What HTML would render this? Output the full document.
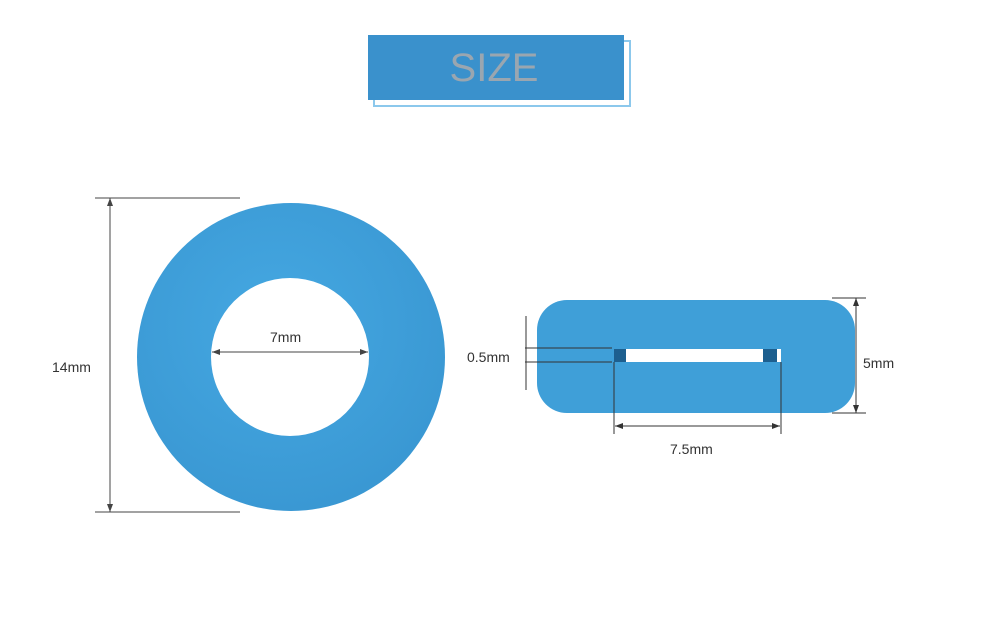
<!DOCTYPE html>
<html><head><style>
body{margin:0;background:#fff;width:1000px;height:638px;overflow:hidden}
</style></head><body>
<svg width="1000" height="638" viewBox="0 0 1000 638" xmlns="http://www.w3.org/2000/svg">
<defs>
<radialGradient id="g" cx="0.45" cy="0.4" r="0.6"><stop offset="0" stop-color="#45a8e2"/><stop offset="1" stop-color="#3a98d3"/></radialGradient>
</defs>
<rect x="374" y="41" width="256" height="65" fill="#fff" stroke="#8cc8ec" stroke-width="2"/>
<rect x="368" y="35" width="256" height="65" fill="#3a91cc"/>
<text x="494" y="81" text-anchor="middle" font-family="Liberation Sans, sans-serif" font-size="40" fill="#9aa6b0">SIZE</text>

<circle cx="291" cy="357" r="154" fill="url(#g)"/>
<circle cx="290" cy="357" r="79" fill="#fff"/>
<g stroke="#444" stroke-width="1" fill="none">
<line x1="95" y1="198" x2="240" y2="198"/>
<line x1="95" y1="512" x2="240" y2="512"/>
<line x1="110" y1="198" x2="110" y2="512"/>
<line x1="212" y1="352" x2="368" y2="352"/>
</g>
<path d="M110 198 l-3 8 h6z M110 512 l-3 -8 h6z M212 352 l8 -3 v6z M368 352 l-8 -3 v6z" fill="#444"/>
<text x="52" y="372" font-family="Liberation Sans, sans-serif" font-size="14" fill="#333">14mm</text>
<text x="270" y="342" font-family="Liberation Sans, sans-serif" font-size="14" fill="#333">7mm</text>

<rect x="537" y="300" width="318" height="113" rx="30" fill="#3f9fd8"/>
<rect x="614" y="349" width="167" height="13" fill="#fff"/>
<rect x="614" y="349" width="12" height="13" fill="#1d5f8f"/>
<rect x="763" y="349" width="14" height="13" fill="#1d5f8f"/>
<g stroke="#333" stroke-width="1" fill="none">
<line x1="525" y1="348" x2="612" y2="348"/>
<line x1="525" y1="362" x2="612" y2="362"/>
<line x1="526" y1="316" x2="526" y2="390"/>
<line x1="614" y1="362" x2="614" y2="434"/>
<line x1="781" y1="362" x2="781" y2="434"/>
<line x1="615" y1="426" x2="780" y2="426"/>
<line x1="832" y1="298" x2="866" y2="298"/>
<line x1="832" y1="413" x2="866" y2="413"/>
<line x1="856" y1="298" x2="856" y2="413"/>
</g>
<path d="M615 426 l8 -3 v6z M780 426 l-8 -3 v6z M856 298 l-3 8 h6z M856 413 l-3 -8 h6z" fill="#333"/>
<text x="467" y="362" font-family="Liberation Sans, sans-serif" font-size="14" fill="#333">0.5mm</text>
<text x="863" y="368" font-family="Liberation Sans, sans-serif" font-size="14" fill="#333">5mm</text>
<text x="670" y="454" font-family="Liberation Sans, sans-serif" font-size="14" fill="#333">7.5mm</text>
</svg>
</body></html>
